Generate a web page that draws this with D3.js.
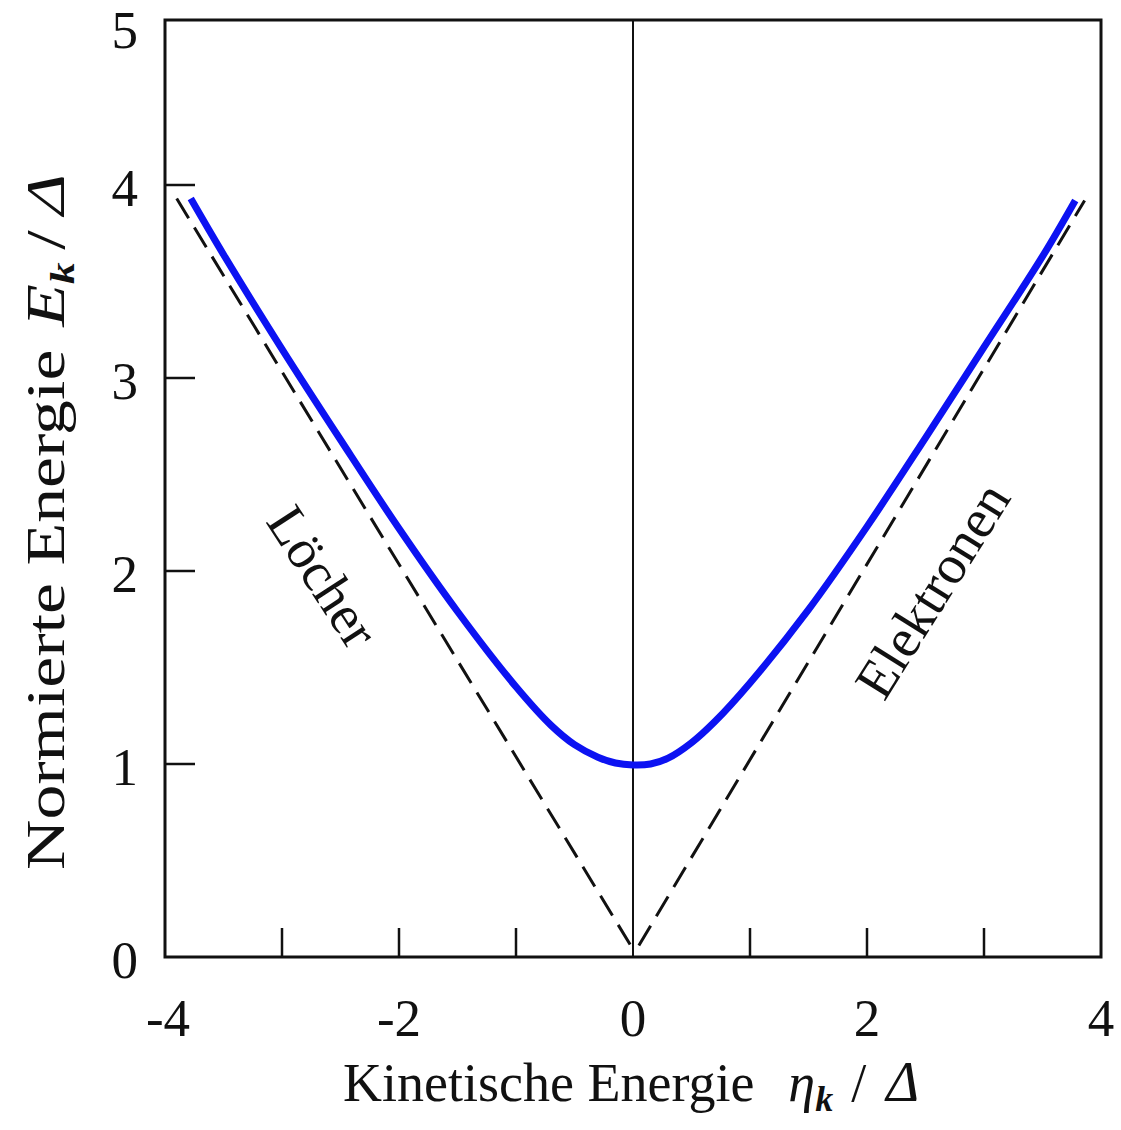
<!DOCTYPE html>
<html><head><meta charset="utf-8">
<script src="https://cdn.jsdelivr.net/npm/d3@7"></script>
<style>html,body{margin:0;padding:0;background:#fff;} svg{display:block;}</style>
</head><body>
<script>
// ---- data ----
const curveX = [-3.78,-3.5,-3.0,-2.5,-2.0,-1.5,-1.0,-0.7,-0.5,-0.3,-0.15,0,0.15,0.3,0.5,0.7,1.0,1.5,2.0,2.5,3.0,3.5,3.78];
const curveE = [3.93,3.64,3.15,2.68,2.22,1.79,1.40,1.20,1.10,1.035,1.005,0.995,1.0,1.03,1.11,1.22,1.42,1.80,2.23,2.69,3.16,3.63,3.92];
const holeX = [-3.9,-0.02];
const holeE = [3.93,0.06];
const elecX = [0.05,3.86];
const elecE = [0.06,3.92];
const xTicks = [-4,-3,-2,-1,0,1,2,3,4];
const xTickLabels = ["-4","","-2","","0","","2","","4"];
const yTicks = [0,1,2,3,4,5];
const yTickLabels = ["0","1","2","3","4","5"];

const W = 1121, H = 1130;
const svg = d3.select("body").append("svg").attr("width", W).attr("height", H);
svg.append("rect").attr("width", W).attr("height", H).attr("fill", "#fff");

const x = d3.scaleLinear().domain([-4,4]).range([165,1101]);
const y = d3.scaleLinear().domain([0,4,5]).range([957,185,20]);
const font = "'Liberation Serif','Times New Roman',serif";

// zero line
svg.append("line").attr("x1", x(0)).attr("x2", x(0)).attr("y1", y(0)).attr("y2", y(5))
  .attr("stroke", "#111").attr("stroke-width", 2);

// ticks (inward)
xTicks.filter(t => t > -4 && t < 4 && t !== 0).forEach(t => {
  svg.append("line").attr("x1", x(t)).attr("x2", x(t)).attr("y1", y(0)).attr("y2", y(0) - 29)
    .attr("stroke", "#111").attr("stroke-width", 2.5);
});
yTicks.filter(t => t > 0 && t < 5).forEach(t => {
  svg.append("line").attr("x1", x(-4)).attr("x2", x(-4) + 30).attr("y1", y(t)).attr("y2", y(t))
    .attr("stroke", "#111").attr("stroke-width", 2.5);
});

// dashed lines
const line = d3.line().x(d => x(d[0])).y(d => y(d[1]));
[[holeX, holeE], [elecX, elecE]].forEach(([xs, es]) => {
  svg.append("path").attr("d", line(xs.map((v, i) => [v, es[i]])))
    .attr("fill", "none").attr("stroke", "#111").attr("stroke-width", 3)
    .attr("stroke-dasharray", "23,11");
});

// blue curve
svg.append("path")
  .attr("d", d3.line().x(d => x(d[0])).y(d => y(d[1])).curve(d3.curveCatmullRom)(curveX.map((v, i) => [v, curveE[i]])))
  .attr("fill", "none").attr("stroke", "#0c12f2").attr("stroke-width", 7).attr("stroke-linecap", "butt");

// frame
svg.append("rect").attr("x", x(-4)).attr("y", y(5)).attr("width", x(4) - x(-4)).attr("height", y(0) - y(5))
  .attr("fill", "none").attr("stroke", "#111").attr("stroke-width", 3);

// tick labels
xTicks.forEach((t, i) => {
  if (!xTickLabels[i]) return;
  svg.append("text").attr("x", x(t) + (t === -4 ? 3 : 0)).attr("y", 1036).attr("text-anchor", "middle")
    .attr("font-family", font).attr("font-size", 53).attr("fill", "#111").text(xTickLabels[i]);
});
yTicks.forEach((t, i) => {
  svg.append("text").attr("x", 138).attr("y", y(t) + (t === 5 ? 10 : 3)).attr("text-anchor", "end")
    .attr("dominant-baseline", "central")
    .attr("font-family", font).attr("font-size", 53).attr("fill", "#111").text(yTickLabels[i]);
});

// axis titles
const xt = svg.append("text").attr("x", 343).attr("y", 1101)
  .attr("font-family", font).attr("font-size", 54).attr("fill", "#111");
xt.append("tspan").text("Kinetische Energie");
xt.append("tspan").attr("dx", 34).attr("font-style", "italic").text("η");
xt.append("tspan").attr("font-style", "italic").attr("font-weight", "bold").attr("font-size", 36).attr("dy", 10).text("k");
xt.append("tspan").attr("dy", -10).attr("dx", 18).text("/");
xt.append("tspan").attr("dx", 20).attr("font-style", "italic").attr("font-size", 56).text("Δ");

const yt = svg.append("text").attr("transform", "translate(64,870) rotate(-90) scale(1.27,1)")
  .attr("font-family", font).attr("font-size", 55).attr("fill", "#111");
yt.append("tspan").text("Normierte Energie");
yt.append("tspan").attr("dx", 18).attr("font-style", "italic").text("E");
yt.append("tspan").attr("font-style", "italic").attr("font-weight", "bold").attr("font-size", 34).attr("dy", 10).text("k");
yt.append("tspan").attr("dy", -10).attr("dx", 10).text("/");
yt.append("tspan").attr("dx", 12).attr("font-style", "italic").text("Δ");

// curve labels
svg.append("text").attr("transform", `translate(${x(-2.65)},${y(1.97)}) rotate(57)`)
  .attr("text-anchor", "middle").attr("dominant-baseline", "central")
  .attr("font-family", font).attr("font-size", 55).attr("fill", "#111").text("Löcher");
svg.append("text").attr("transform", `translate(${x(2.56)},${y(1.9)}) rotate(-58)`)
  .attr("text-anchor", "middle").attr("dominant-baseline", "central")
  .attr("font-family", font).attr("font-size", 55).attr("fill", "#111").text("Elektronen");
</script>
</body></html>
